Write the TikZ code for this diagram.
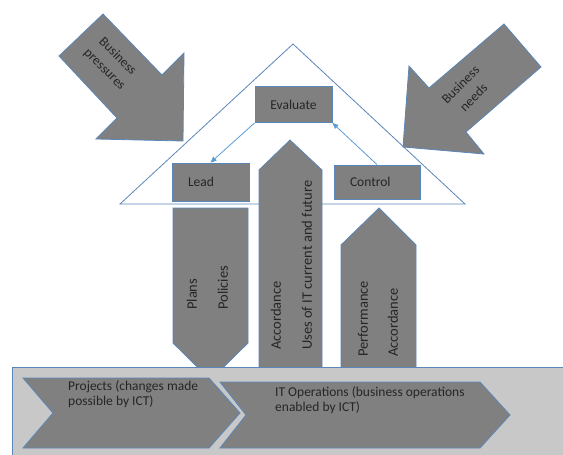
\documentclass[tikz,border=0pt]{standalone}
\usepackage{fontspec}
\setmainfont{Carlito}
\usetikzlibrary{arrows.meta}
\definecolor{shapegray}{HTML}{808080}
\definecolor{edgeblue}{HTML}{5A86B8}
\definecolor{linkblue}{HTML}{5B9BD5}
\definecolor{bandgray}{HTML}{C8C8C8}
\tikzset{
  grayshape/.style={fill=shapegray, draw=edgeblue, line width=0.8pt, line join=miter},
  box/.style={grayshape, inner ysep=0pt, minimum height=36pt, font=\fontsize{13.5}{15.5}\selectfont, text=black!85},
  lbl/.style={font=\fontsize{13.5}{15.5}\selectfont, inner sep=0pt, text=black!85},
  tilted/.style={lbl, align=center, font=\fontsize{13.5}{18.5}\selectfont},
  vlbl/.style={lbl, rotate=90, anchor=west, font=\fontsize{14.5}{16}\selectfont},
  link/.style={draw=linkblue, line width=0.8pt, -{Triangle[length=6pt,width=5pt]}},
}
\begin{document}
\begin{tikzpicture}[x=1pt,y=-1pt]
\useasboundingbox (0,0) rectangle (563,455);

% roof triangle
\draw[edgeblue, line width=0.8pt] (293,44) -- (465,204) -- (120,204) -- cycle;

% pressure arrows
\path[grayshape] (103,14) -- (162,75) -- (184,53) -- (183,141) -- (96,139) -- (117,118) -- (59,56) -- cycle;
\node[tilted, rotate=-45] (press) at (111,63) {Business\\pressures};
\path[grayshape] (504,24) -- (541,67) -- (466,132) -- (484,154) -- (403,147) -- (409,66) -- (429,88) -- cycle;
\node[tilted, rotate=45] (needs) at (467,91) {Business\\needs};

% governance boxes
\node[box, minimum width=77pt, inner xsep=0pt] (eval) at (293.5,104.5) {Evaluate};
\node[box, text width=45pt, inner xsep=16pt, align=left, minimum height=38pt] (lead) at (210.5,182) {Lead};
\node[box, text width=54pt, inner xsep=16pt, align=left, minimum height=34pt] (ctrl) at (377,182) {Control};
\draw[link] (eval.south west) -- (lead.north);
\draw[link] (ctrl.north) -- (eval.south east);

% vertical flows
\path[grayshape] (173,208) -- (248,208) -- (248,343) -- (210.5,380) -- (173,343) -- cycle;
\node[vlbl] (plans) at (192,310) {Plans};
\node[vlbl] (policies) at (223,310) {Policies};
\path[grayshape] (290,140) -- (322,170) -- (322,372) -- (259,372) -- (259,170) -- cycle;
\node[vlbl] (acc1) at (276,350) {Accordance};
\node[vlbl] (uses) at (307,350) {Uses of IT current and future};
\path[grayshape] (379,208) -- (416,245) -- (416,372) -- (341,372) -- (341,245) -- cycle;
\node[vlbl] (perf) at (363,357) {Performance};
\node[vlbl] (acc2) at (393,357) {Accordance};

% operations band
\path[fill=bandgray, draw=edgeblue, line width=0.8pt] (12,367) rectangle (570,470);
\path[grayshape] (23,378) -- (209,378) -- (240,413) -- (209,448) -- (23,448) -- (53,413) -- cycle;
\node[lbl, anchor=north west, align=left] (proj) at (68,380) {Projects (changes made\\possible by ICT)};
\path[grayshape] (220,382) -- (480,382) -- (510,415) -- (480,448) -- (220,448) -- (246,415) -- cycle;
\node[lbl, anchor=north west, align=left] (ops) at (275,386) {IT Operations (business operations\\enabled by ICT)};
\end{tikzpicture}
\end{document}
